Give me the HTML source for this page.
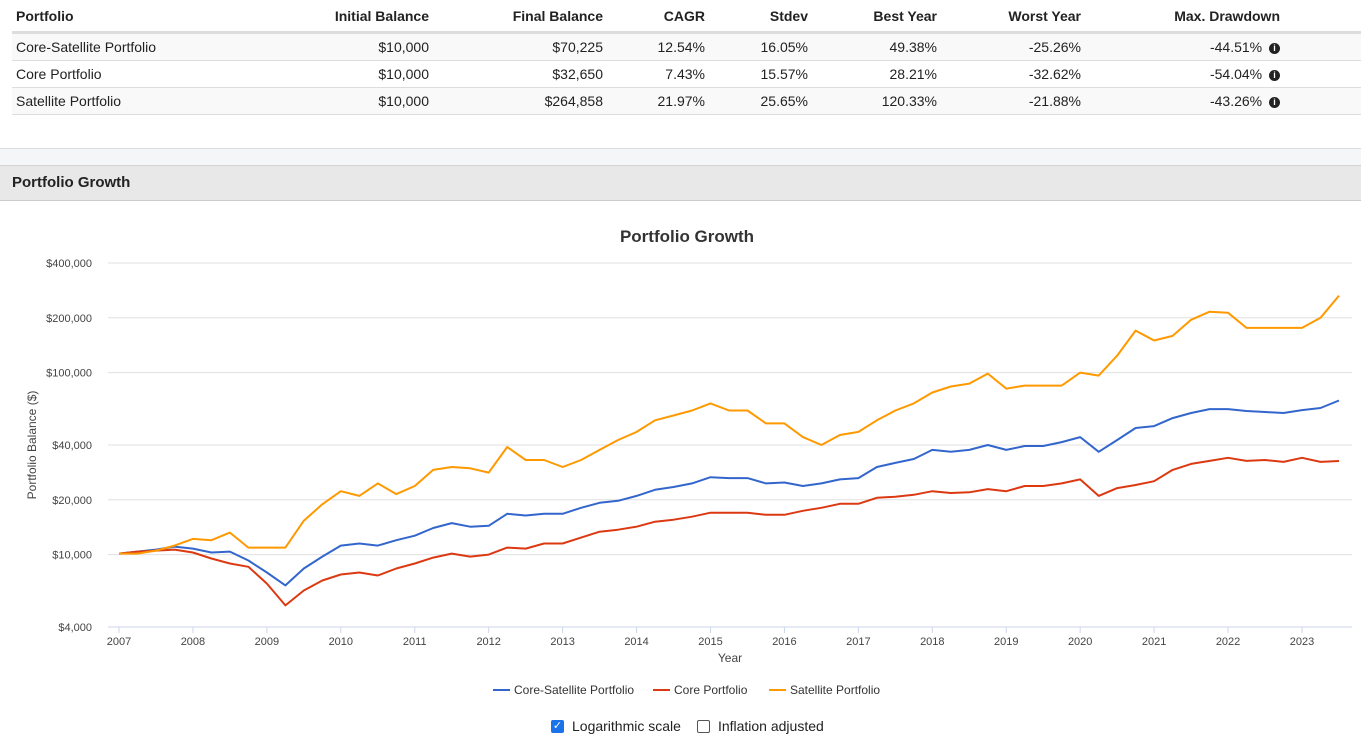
<!DOCTYPE html>
<html><head><meta charset="utf-8"><style>
body{margin:0;width:1361px;height:743px;background:#fff;font-family:"Liberation Sans",Arial,sans-serif;color:#222;overflow:hidden;position:relative}
table{position:absolute;left:12px;top:0;width:1349px;border-collapse:collapse;font-size:14px;table-layout:fixed}
th{font-weight:bold;text-align:right;height:31px;padding:0 4px;border-bottom:3px solid #ddd}
td{text-align:right;height:26px;padding:0 4px;border-bottom:1px solid #ddd}
th:first-child,td:first-child{text-align:left}
tr.odd td{background:#f9f9f9}
.info{display:inline-block;width:11px;height:11px;border-radius:50%;background:#222;color:#fff;font-size:9px;line-height:11px;text-align:center;font-weight:bold;vertical-align:1px;margin-left:3px}
</style></head><body>
<table>
<colgroup><col style="width:268px"><col style="width:153px"><col style="width:174px"><col style="width:102px"><col style="width:103px"><col style="width:129px"><col style="width:144px"><col style="width:199px"><col></colgroup>
<tr><th>Portfolio</th><th>Initial Balance</th><th>Final Balance</th><th>CAGR</th><th>Stdev</th><th>Best Year</th><th>Worst Year</th><th>Max. Drawdown</th><th></th></tr>
<tr class="odd"><td>Core-Satellite Portfolio</td><td>$10,000</td><td>$70,225</td><td>12.54%</td><td>16.05%</td><td>49.38%</td><td>-25.26%</td><td>-44.51% <span class="info">i</span></td><td></td></tr>
<tr><td>Core Portfolio</td><td>$10,000</td><td>$32,650</td><td>7.43%</td><td>15.57%</td><td>28.21%</td><td>-32.62%</td><td>-54.04% <span class="info">i</span></td><td></td></tr>
<tr class="odd"><td>Satellite Portfolio</td><td>$10,000</td><td>$264,858</td><td>21.97%</td><td>25.65%</td><td>120.33%</td><td>-21.88%</td><td>-43.26% <span class="info">i</span></td><td></td></tr>
</table>
<div style="position:absolute;left:0;top:148px;width:1361px;height:17px;background:#f5f6f8;border-top:1px solid #ddd"></div>
<div style="position:absolute;left:0;top:165px;width:1361px;height:36px;background:#e8e8e8;border-top:1px solid #d4d4d4;border-bottom:1px solid #ccc;box-sizing:border-box;font-weight:bold;font-size:15px;line-height:34px;padding-left:12px">Portfolio Growth</div>
<svg id="chart" style="position:absolute;left:0;top:0" width="1361" height="743" font-family="Liberation Sans, Arial, sans-serif"></svg>
<div style="position:absolute;top:718px;left:551px;font-size:14px;display:flex;align-items:center">
<span style="width:13px;height:13px;background:#1a73e8;border-radius:2px;color:#fff;font-size:11px;line-height:13px;text-align:center">✓</span><span style="margin-left:8px">Logarithmic scale</span>
<span style="width:11px;height:11px;border:1px solid #555;border-radius:2px;margin-left:16px"></span><span style="margin-left:8px">Inflation adjusted</span>
</div>
<script>
const startYear=2007, stepYears=0.25;
const seriesNames=["Core-Satellite Portfolio","Core Portfolio","Satellite Portfolio"];
const seriesColors=["#3366cc","#dc3912","#ff9900"];
const coreSat=[10130,10390,10650,11060,10790,10260,10390,9280,7970,6770,8380,9750,11200,11500,11200,12000,12700,14000,14900,14220,14400,16760,16400,16760,16760,18080,19250,19750,21000,22700,23500,24600,26600,26300,26300,24600,24900,23800,24600,25900,26300,30300,31900,33500,37600,36700,37600,40000,37600,39500,39500,41500,44200,36700,42600,49600,50800,56200,60000,63000,63000,61500,60700,60000,62200,63900,70225];
const core=[10130,10390,10520,10650,10260,9510,8930,8570,6930,5260,6350,7200,7770,7970,7670,8380,8930,9630,10130,9750,10000,10920,10790,11500,11500,12390,13360,13700,14220,15150,15540,16140,16980,16980,16980,16550,16550,17400,18080,19000,19000,20500,20800,21300,22300,21800,22000,22900,22300,23800,23800,24600,25900,21000,23200,24100,25300,29200,31500,32700,34000,32700,33100,32300,34000,32300,32650];
const satellite=[10130,10130,10520,11200,12200,12000,13200,10920,10920,10920,15350,18900,22300,21000,24600,21500,23800,29200,30300,29800,28200,39000,33100,33100,30300,33100,37600,42600,47200,54700,58100,61900,67700,61900,61900,52600,52600,44200,40000,45400,47200,54700,61900,67700,77700,83800,87000,98700,81700,84800,84800,84800,100000,96300,123900,170000,150000,159000,195000,216000,213000,176000,176000,176000,176000,200000,264858];
const yTicks=[4000,10000,20000,40000,100000,200000,400000];
const yTickLabels=["$4,000","$10,000","$20,000","$40,000","$100,000","$200,000","$400,000"];
const xTicks=[2007,2008,2009,2010,2011,2012,2013,2014,2015,2016,2017,2018,2019,2020,2021,2022,2023];
const NS="http://www.w3.org/2000/svg", svg=document.getElementById('chart');
const X0=119,X1=1302,Y0=627,PXD=182;
function xs(yr){return X0+(yr-2007)*(X1-X0)/16;}
function ys(v){return Y0-Math.log10(v/4000)*PXD;}
function mk(t,a,txt){const e=document.createElementNS(NS,t);for(const k in a)e.setAttribute(k,a[k]);if(txt!==undefined)e.textContent=txt;svg.appendChild(e);return e;}
let e=mk('text',{x:687,y:242,'text-anchor':'middle','font-size':17,'font-weight':'bold',fill:'#333'},'Portfolio Growth');


yTicks.forEach((v,i)=>{
 const y=ys(v);
 if(i>0){const g=mk('line',{x1:108,x2:1352,y1:y,y2:y,stroke:'#e0e0e0'});
 
 }
 const t=mk('text',{x:92,y:y+4,'text-anchor':'end','font-size':11,fill:'#444'},yTickLabels[i]);
 
 
});
e=mk('line',{x1:108,x2:1352,y1:Y0,y2:Y0,stroke:'#ccd6eb'});


xTicks.forEach(yr=>{
 const x=xs(yr);
 mk('line',{x1:x,x2:x,y1:Y0,y2:Y0+6,stroke:'#ccd6eb'});
 const t=mk('text',{x:x,y:645,'text-anchor':'middle','font-size':11,fill:'#444'},String(yr));
 
 
});
e=mk('text',{x:730,y:662,'text-anchor':'middle','font-size':12,fill:'#444'},'Year');


e=mk('text',{x:36,y:445,'text-anchor':'middle','font-size':12,fill:'#444',transform:'rotate(-90 36 445)'},'Portfolio Balance ($)');


[coreSat,core,satellite].forEach((arr,si)=>{
 const pts=arr.map((v,i)=>xs(startYear+i*stepYears).toFixed(1)+','+ys(v).toFixed(1)).join(' ');
 const p=mk('polyline',{points:pts,fill:'none',stroke:seriesColors[si],'stroke-width':2,'stroke-linejoin':'round'});
 
 
});
const legX=[493,653,769];
seriesNames.forEach((n,i)=>{
 mk('line',{x1:legX[i],x2:legX[i]+17,y1:690,y2:690,stroke:seriesColors[i],'stroke-width':2});
 const t=mk('text',{x:legX[i]+21,y:694,'font-size':12,fill:'#333'},n);
 
 
});
</script>
</body></html>
